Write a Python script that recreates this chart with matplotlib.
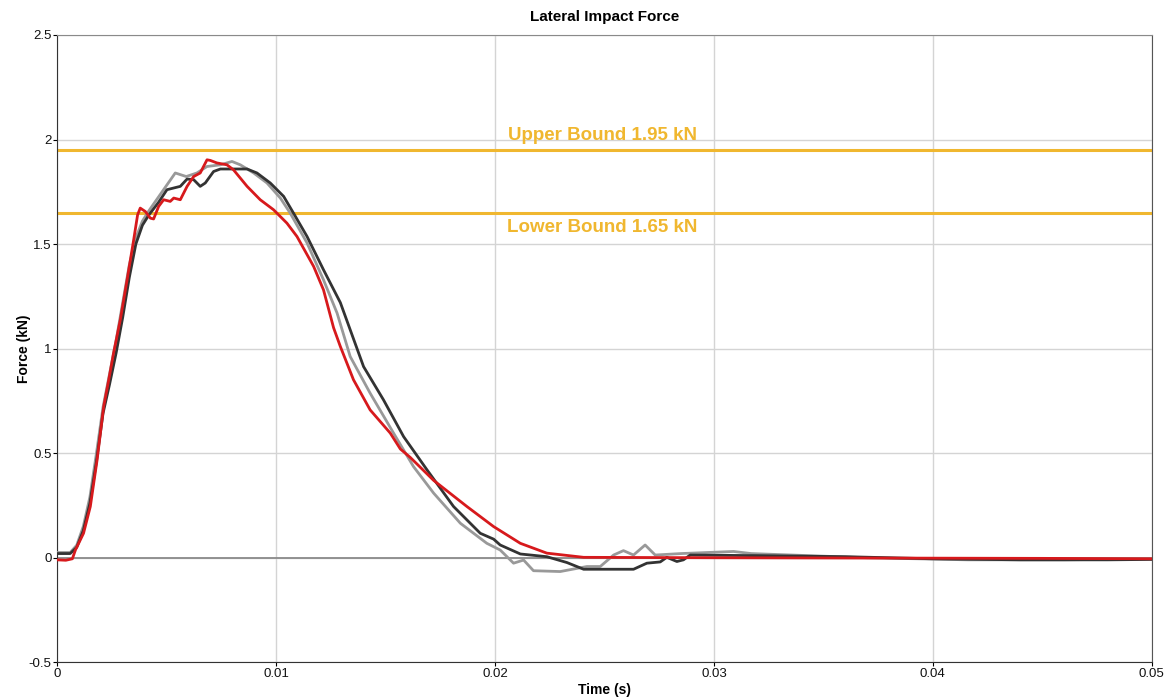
import matplotlib
matplotlib.use("Agg")
import matplotlib.pyplot as plt

plt.rcParams['font.family'] = ['Liberation Sans', 'DejaVu Sans']

# Three test runs of lateral impact force (time in s, force in kN)
gray_t = [0, 0.0006, 0.0009, 0.0012, 0.0015, 0.0018, 0.0021, 0.0024, 0.0027, 0.003,
          0.0033, 0.0036, 0.0039, 0.0042, 0.0046, 0.0050, 0.0054, 0.0059, 0.00639, 0.00685,
          0.00746, 0.00799, 0.00837, 0.00898, 0.00959, 0.0102, 0.01065, 0.01142, 0.01217, 0.01279,
          0.01339, 0.0143, 0.01537, 0.01628, 0.0172, 0.01842, 0.01963, 0.02024, 0.02085, 0.02131,
          0.02176, 0.02298, 0.0242, 0.02481, 0.02542, 0.02587, 0.02633, 0.02686, 0.02732, 0.0285,
          0.0309, 0.0317, 0.037, 0.0416, 0.046, 0.05]
gray_f = [0.025, 0.025, 0.06, 0.15, 0.29, 0.50, 0.72, 0.88, 1.04, 1.22,
          1.40, 1.53, 1.61, 1.66, 1.72, 1.78, 1.84, 1.823, 1.84, 1.871,
          1.879, 1.895, 1.879, 1.84, 1.792, 1.72, 1.648, 1.505, 1.329, 1.17,
          0.962, 0.787, 0.596, 0.436, 0.309, 0.165, 0.069, 0.037, -0.026, -0.011,
          -0.062, -0.066, -0.042, -0.042, 0.013, 0.034, 0.013, 0.061, 0.013, 0.02,
          0.03, 0.02, 0.0, -0.01, -0.01, -0.005]

dark_t = [0, 0.0006, 0.0009, 0.0012, 0.0015, 0.0018, 0.0021, 0.0024, 0.0027, 0.003,
          0.0033, 0.0036, 0.0039, 0.0042, 0.00464, 0.00502, 0.00563, 0.00594, 0.00624, 0.00654,
          0.00677, 0.00715, 0.00746, 0.00868, 0.00913, 0.00974, 0.01035, 0.0108, 0.01142, 0.01217,
          0.01294, 0.014, 0.01491, 0.01583, 0.0169, 0.01811, 0.01933, 0.01994, 0.02024, 0.02116,
          0.02237, 0.02329, 0.02405, 0.02633, 0.02694, 0.02755, 0.02785, 0.02831, 0.02861, 0.02892,
          0.032, 0.036, 0.04, 0.044, 0.048, 0.05]
dark_f = [0.02, 0.02, 0.05, 0.13, 0.26, 0.46, 0.69, 0.83, 0.98, 1.15,
          1.34, 1.50, 1.59, 1.64, 1.70, 1.76, 1.776, 1.811, 1.808, 1.776,
          1.792, 1.847, 1.859, 1.859, 1.84, 1.792, 1.728, 1.648, 1.536, 1.377,
          1.22, 0.914, 0.755, 0.579, 0.42, 0.245, 0.117, 0.089, 0.061, 0.018,
          0.005, -0.023, -0.055, -0.055, -0.026, -0.02, 0.002, -0.018, -0.01, 0.013,
          0.01, 0.005, -0.005, -0.01, -0.01, -0.008]

red_t = [0, 0.0004, 0.0007, 0.00084, 0.00121, 0.00152, 0.00183, 0.00213, 0.00236, 0.00258,
         0.00289, 0.0032, 0.0035, 0.00368, 0.0038, 0.00403, 0.00426, 0.00441, 0.00464, 0.00487,
         0.00517, 0.00533, 0.00563, 0.00594, 0.00624, 0.00654, 0.00685, 0.0070, 0.0073, 0.00776,
         0.00806, 0.00868, 0.00928, 0.00989, 0.0105, 0.01096, 0.01172, 0.01217, 0.01263, 0.01294,
         0.01354, 0.0143, 0.01522, 0.01568, 0.01613, 0.0172, 0.01872, 0.01994, 0.02116, 0.02237,
         0.02405, 0.03, 0.04, 0.045, 0.05]
red_f = [-0.01, -0.012, -0.005, 0.037, 0.117, 0.245, 0.468, 0.723, 0.85, 0.978,
         1.138, 1.329, 1.52, 1.64, 1.672, 1.656, 1.624, 1.62, 1.68, 1.712,
         1.704, 1.72, 1.712, 1.776, 1.823, 1.84, 1.903, 1.90, 1.888, 1.879,
         1.855, 1.776, 1.712, 1.664, 1.60, 1.536, 1.393, 1.281, 1.10, 1.01,
         0.851, 0.707, 0.596, 0.52, 0.48, 0.37, 0.245, 0.149, 0.069, 0.022,
         0.002, 0.0, -0.002, -0.003, -0.005]

upper_bound = 1.95
lower_bound = 1.65
x_ticks = [0, 0.01, 0.02, 0.03, 0.04, 0.05]
x_tick_labels = ['0', '0.01', '0.02', '0.03', '0.04', '0.05']
y_ticks = [-0.5, 0, 0.5, 1, 1.5, 2, 2.5]
y_tick_labels = ['-0.5', '0', '0.5', '1', '1.5', '2', '2.5']

fig = plt.figure(figsize=(11.64, 6.99), dpi=100)
ax = fig.add_axes([0.049, 0.0525, 0.9405, 0.8975])

ax.set_xlim(0, 0.05)
ax.set_ylim(-0.5, 2.5)
ax.set_xticks(x_ticks)
ax.set_xticklabels(x_tick_labels)
ax.set_yticks(y_ticks)
ax.set_yticklabels(y_tick_labels)
ax.grid(True, color='#d4d4d4', linewidth=1.0)
ax.set_axisbelow(True)
ax.axhline(0, color='#8a8a8a', linewidth=1.3, zorder=1)

# bounds
gold = '#f0b72f'
ax.axhline(upper_bound, color=gold, linewidth=2.2, zorder=2)
ax.axhline(lower_bound, color=gold, linewidth=2.2, zorder=2)
ax.text(0.0249, upper_bound + 0.03, f'Upper Bound {upper_bound} kN', color=gold,
        fontsize=13.5, fontweight='bold', ha='center', va='bottom')
ax.text(0.0249, lower_bound - 0.03, f'Lower Bound {lower_bound} kN', color=gold,
        fontsize=13.5, fontweight='bold', ha='center', va='top')

ax.plot(gray_t, gray_f, color='#999999', linewidth=2.0, zorder=3)
ax.plot(dark_t, dark_f, color='#333333', linewidth=2.0, zorder=4)
ax.plot(red_t, red_f, color='#d7191c', linewidth=2.0, zorder=5)

ax.set_title('Lateral Impact Force', fontsize=11, fontweight='bold', pad=10)
ax.set_xlabel('Time (s)', fontsize=10, fontweight='bold', labelpad=2)
ax.set_ylabel('Force (kN)', fontsize=10, fontweight='bold', labelpad=-2)
ax.tick_params(labelsize=9.5, labelcolor='#111111', length=3, width=0.8, pad=1)

for side in ['left', 'bottom']:
    ax.spines[side].set_color('#333333')
ax.spines['right'].set_color('#555555')
ax.spines['top'].set_color('#8a8a8a')

fig.savefig('out.png', dpi=100)
